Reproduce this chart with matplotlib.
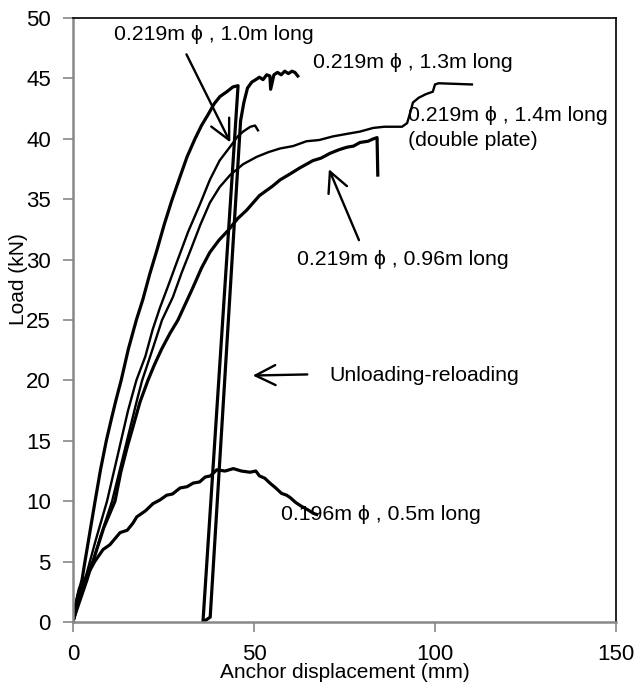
import matplotlib
matplotlib.use('Agg')
import matplotlib.pyplot as plt

plt.rcParams['font.family'] = ['Liberation Sans', 'DejaVu Sans']

# 0.219m phi, 1.3m long (with unloading-reloading loop)
x_13 = [0, 1.2, 2.5, 3.3, 4.7, 6.1, 7.6, 9.2, 10.6, 11.9, 13.3, 15.3, 17.5, 19.3,
        21.2, 23.2, 25.2, 27.3, 29.5, 31.5, 33.7, 35.5, 37.3, 39.0, 40.6, 42.5,
        44.2, 45.6,
        35.9, 37.9,
        45.3, 46.3, 47.2, 48.2, 49.4, 50.5, 51.5, 52.5, 53.5, 54.4, 54.6, 55.5,
        56.5, 57.5, 58.5, 59.5, 60.5, 61.3, 62.1]
y_13 = [0, 2.0, 3.5, 5.0, 7.5, 10.0, 12.6, 15.0, 16.8, 18.4, 20.0, 22.6, 25.0, 26.7,
        28.8, 30.8, 32.9, 34.9, 36.8, 38.5, 40.0, 41.1, 42.0, 42.9, 43.5, 43.9,
        44.3, 44.4,
        0.0, 0.4,
        36.6, 41.5, 43.0, 44.2, 44.7, 44.9, 45.1, 44.9, 45.3, 45.2, 44.1, 45.3,
        45.5, 45.3, 45.6, 45.4, 45.6, 45.5, 45.2]

# 0.219m phi, 1.0m long
x_10 = [0, 1.5, 3.3, 6.3, 9.4, 12.5, 15.2, 17.5, 20.0, 22.0, 24.0, 26.5, 28.7,
        31.8, 35.1, 37.8, 40.5, 43.8, 45.5, 47.0, 49.0, 50.3, 51.1]
y_10 = [0, 1.8, 3.5, 6.8, 10.0, 14.0, 17.5, 20.0, 22.0, 24.2, 26.0, 28.0, 29.8,
        32.3, 34.6, 36.6, 38.2, 39.5, 40.2, 40.6, 41.0, 41.1, 40.7]

# 0.219m phi, 1.4m long (double plate)
x_14 = [0, 4.0, 7.5, 10.8, 14.5, 17.7, 19.1, 22.0, 24.6, 27.6, 30.0, 32.5, 35.2,
        37.8, 40.5, 43.4, 47.0, 50.7, 54.0, 57.2, 60.8, 64.5, 68.0, 71.8, 75.5,
        79.3, 82.9, 86.0, 88.5, 90.9, 92.3, 93.2, 93.9, 95.5, 97.5, 99.4, 100.0,
        101.0, 110.2]
y_14 = [0, 3.5, 7.0, 10.0, 14.5, 18.4, 20.0, 22.6, 25.0, 26.9, 28.9, 30.8, 32.9,
        34.7, 36.0, 37.0, 37.9, 38.5, 38.9, 39.2, 39.4, 39.8, 39.9, 40.2, 40.4,
        40.6, 40.9, 41.0, 41.0, 41.0, 41.3, 42.2, 43.0, 43.4, 43.7, 43.9, 44.5,
        44.6, 44.5]

# 0.219m phi, 0.96m long
x_096 = [0, 2.0, 4.6, 5.5, 8.5, 11.6, 13.2, 15.0, 16.8, 18.5, 20.7, 22.5, 24.5,
         26.8, 29.0, 31.0, 33.0, 35.5, 37.8, 40.3, 42.8, 45.5, 48.0, 51.5, 55.2,
         57.2, 60.0, 62.7, 66.3, 68.5, 71.0, 73.5, 75.6, 77.5, 79.3, 81.5, 83.0,
         84.0, 84.2]
y_096 = [0, 2.2, 4.5, 5.0, 7.8, 10.0, 12.4, 14.5, 16.4, 18.2, 20.0, 21.3, 22.6,
         23.9, 25.0, 26.3, 27.6, 29.3, 30.6, 31.6, 32.4, 33.4, 34.1, 35.3, 36.1,
         36.6, 37.1, 37.6, 38.2, 38.4, 38.8, 39.1, 39.3, 39.4, 39.7, 39.8, 40.0,
         40.1, 37.0]

# 0.196m phi, 0.5m long
x_05 = [0, 0.8, 1.8, 3.8, 6.0, 8.3, 10.2, 13.0, 15.0, 16.6, 17.6, 20.0, 22.1, 24.0,
        25.9, 27.5, 29.6, 31.5, 33.2, 35.0, 36.5, 38.0, 39.7, 42.0, 44.3, 46.5,
        48.9, 50.5, 51.5, 53.0, 54.4, 56.0, 57.6, 59.0, 60.0, 61.5, 63.0, 64.8,
        66.4, 67.3]
y_05 = [0, 1.5, 2.8, 3.8, 5.0, 6.0, 6.4, 7.4, 7.6, 8.2, 8.7, 9.2, 9.8, 10.1,
        10.5, 10.6, 11.1, 11.2, 11.5, 11.6, 12.0, 12.1, 12.6, 12.5, 12.7, 12.5,
        12.4, 12.5, 12.1, 11.9, 11.5, 11.1, 10.65, 10.5, 10.3, 9.9, 9.6, 9.3,
        9.0, 8.9]

fig = plt.figure(figsize=(6.38, 6.88), dpi=100)
ax = fig.add_axes([0.1144, 0.0959, 0.8511, 0.8779])

ax.plot(x_13, y_13, color='black', lw=2.3)
ax.plot(x_10, y_10, color='black', lw=1.7)
ax.plot(x_14, y_14, color='black', lw=1.7)
ax.plot(x_096, y_096, color='black', lw=2.3)
ax.plot(x_05, y_05, color='black', lw=2.3)

ax.set_xlim(0, 150)
ax.set_ylim(0, 50)
ax.set_xticks([0, 50, 100, 150])
ax.set_yticks(range(0, 51, 5))
ax.tick_params(direction='out', length=7, width=1.2, color='#888888',
               labelsize=16, pad=9)
for s in ['left', 'bottom']:
    ax.spines[s].set_color('#888888')
    ax.spines[s].set_linewidth(1.8)
for s in ['top', 'right']:
    ax.spines[s].set_color('black')
    ax.spines[s].set_linewidth(1.2)

ax.set_xlabel('Anchor displacement (mm)', fontsize=15)
ax.set_ylabel('Load (kN)', fontsize=15)
ax.xaxis.set_label_coords(0.5, -0.068)
ax.yaxis.set_label_coords(-0.083, 0.567)

fs = 15.3
arr = dict(arrowstyle='->', lw=1.7, color='black', mutation_scale=36)
ax.text(39, 48.6, '0.219m \u03d5 , 1.0m long', fontsize=fs, ha='center', va='center')
ax.annotate('', xy=(43.8, 39.5), xytext=(31.0, 47.2), arrowprops=arr)
ax.text(66.3, 46.3, '0.219m \u03d5 , 1.3m long', fontsize=fs, ha='left', va='center')
ax.text(92.5, 41.9, '0.219m \u03d5 , 1.4m long', fontsize=fs, ha='left', va='center')
ax.text(92.5, 39.9, '(double plate)', fontsize=fs, ha='left', va='center')
ax.text(61.9, 30.05, '0.219m \u03d5 , 0.96m long', fontsize=fs, ha='left', va='center')
ax.annotate('', xy=(70.4, 37.7), xytext=(79.3, 31.4), arrowprops=arr)
ax.text(70.7, 20.4, 'Unloading-reloading', fontsize=fs, ha='left', va='center')
ax.annotate('', xy=(48.9, 20.4), xytext=(65.5, 20.5), arrowprops=arr)
ax.text(57.6, 8.86, '0.196m \u03d5 , 0.5m long', fontsize=fs, ha='left', va='center')

fig.savefig('out.png', dpi=100)
